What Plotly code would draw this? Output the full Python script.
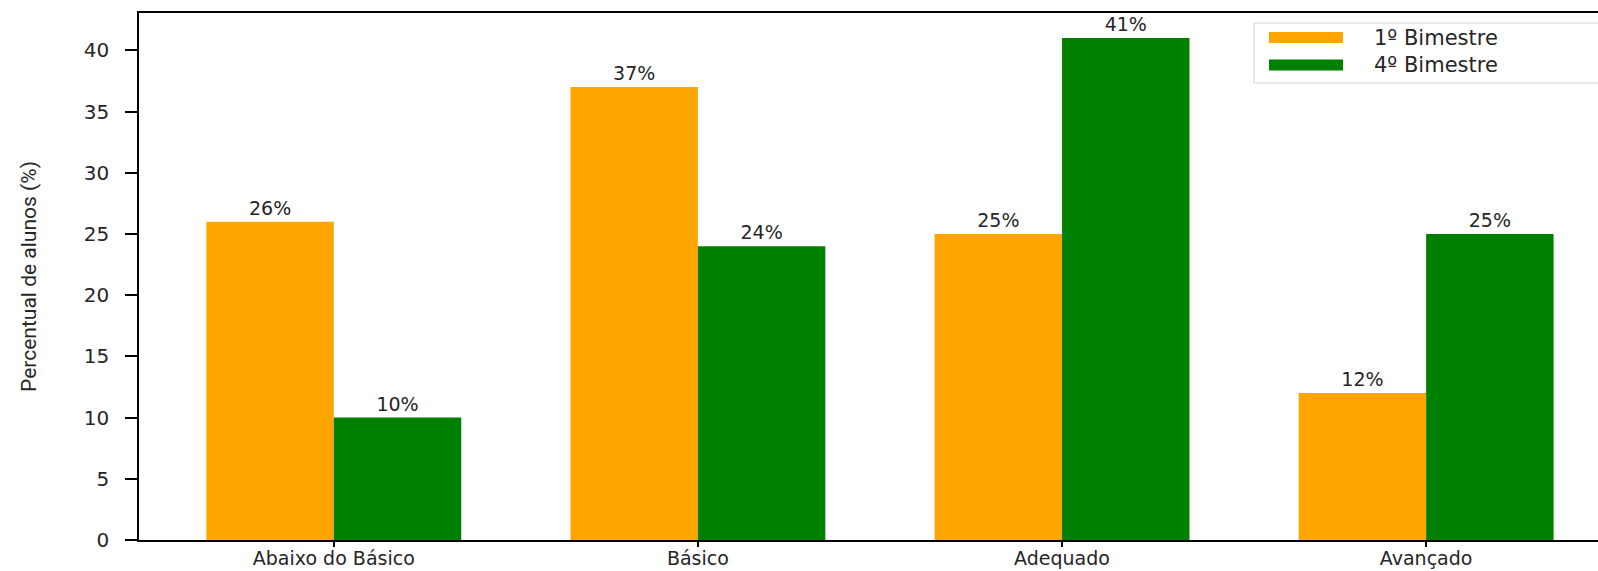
import plotly.graph_objects as go

categories = ["Abaixo do Básico", "Básico", "Adequado", "Avançado"]
bim1 = [26, 37, 25, 12]
bim4 = [10, 24, 41, 25]
series_names = ["1º Bimestre", "4º Bimestre"]
colors = ["#FFA500", "#008000"]

fig = go.Figure()
for name, vals, col in zip(series_names, [bim1, bim4], colors):
    fig.add_trace(go.Bar(
        x=categories, y=vals, name=name, marker=dict(color=col, line=dict(width=0)),
        text=[f"{v}%" for v in vals], textposition="outside", cliponaxis=False,
        textfont=dict(family="DejaVu Sans", size=19, color="#262626"),
        showlegend=False,
    ))

# --- matplotlib-style legend (box, wide swatches, labels) in paper coords ---
L, T = 139, 13
PW, PH = 1598 - 139, 571 - 13 - 31


def px_x(p):
    return (p - L) / PW


def px_y(p):
    return (T + PH - p) / PH


fig.add_shape(type="rect", xref="paper", yref="paper",
              x0=px_x(1254), x1=px_x(1640), y0=px_y(83), y1=px_y(23),
              fillcolor="rgba(255,255,255,0.8)", line=dict(color="#d4d4d4", width=1),
              layer="above")
row_centers = [37.5, 65]
for name, col, yc in zip(series_names, colors, row_centers):
    fig.add_shape(type="rect", xref="paper", yref="paper",
                  x0=px_x(1269), x1=px_x(1343), y0=px_y(yc + 5.5), y1=px_y(yc - 5.5),
                  fillcolor=col, line=dict(width=0), layer="above")
    fig.add_annotation(xref="paper", yref="paper", x=px_x(1372), y=px_y(yc),
                       xanchor="left", yanchor="middle", text=name, showarrow=False,
                       font=dict(family="DejaVu Sans", size=21, color="#262626"))

fig.update_layout(
    width=1598, height=571,
    margin=dict(l=139, r=0, t=13, b=31, autoexpand=False),
    plot_bgcolor="white", paper_bgcolor="white",
    barmode="group", bargap=0.3, bargroupgap=0,
    font=dict(family="DejaVu Sans", color="#262626"),
    showlegend=False,
    xaxis=dict(
        type="category", range=[-0.535, 3.472], automargin=False,
        showline=True, linecolor="black", linewidth=1.5, mirror=True,
        ticks="outside", ticklen=5, tickwidth=1.5, tickcolor="black",
        tickfont=dict(family="DejaVu Sans", size=19, color="#262626"),
        ticklabelstandoff=-5,
        showgrid=False, zeroline=False,
    ),
    yaxis=dict(
        range=[0, 43.05], dtick=5, automargin=False,
        showline=True, linecolor="black", linewidth=1.5, mirror=False,
        ticks="outside", ticklen=12, tickwidth=1.5, tickcolor="black",
        tickfont=dict(family="DejaVu Sans", size=20, color="#262626"),
        ticklabelstandoff=12,
        showgrid=False, zeroline=False,
        title=dict(text="Percentual de alunos (%)", standoff=41,
                   font=dict(family="Roboto", size=21, color="#262626")),
    ),
)

fig.write_html(
    "out.html",
    config={"displayModeBar": False},
    post_script="document.body.style.margin='0';document.body.style.overflow='hidden';",
)
